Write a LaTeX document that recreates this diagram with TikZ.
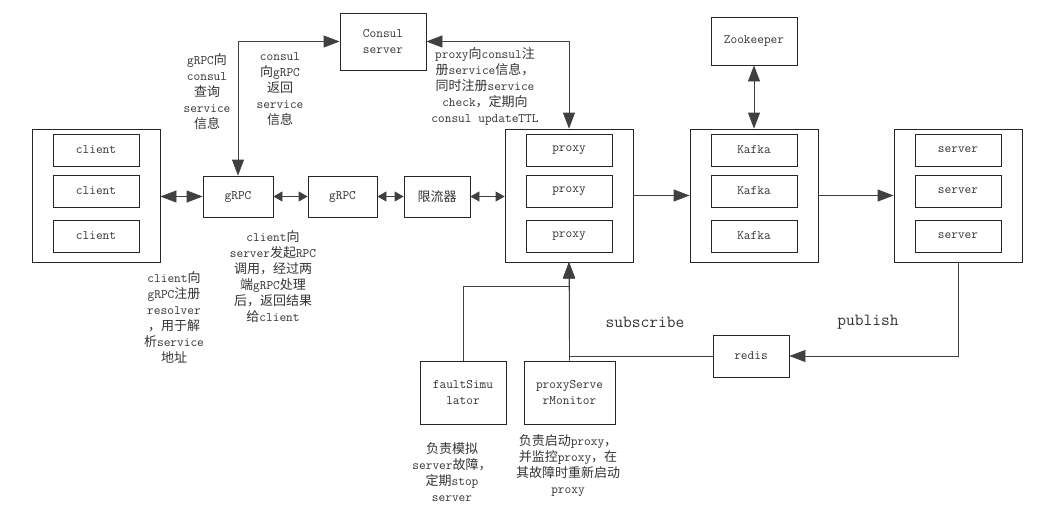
\documentclass[tikz,border=0pt]{standalone}
\usepackage{fontspec}
\usetikzlibrary{arrows.meta}
\newfontfamily\cjk{Noto Sans CJK SC}
\XeTeXinterchartokenstate=1
\newXeTeXintercharclass\CJKcls
\newcount\cjkcnt
\cjkcnt="4E00
\loop\ifnum\cjkcnt<"9FFF \XeTeXcharclass\cjkcnt=\CJKcls \advance\cjkcnt by 1 \repeat
\XeTeXcharclass"FF0C=\CJKcls
\XeTeXinterchartoks 0 \CJKcls = {\cjk}
\XeTeXinterchartoks 4095 \CJKcls = {\cjk}
\XeTeXinterchartoks \CJKcls 0 = {\ttfamily}
\XeTeXinterchartoks \CJKcls 4095 = {\ttfamily}
\tikzset{
  bx/.style={draw=black!85, line width=0.8pt, minimum width=#1, inner sep=0pt, align=center,
    text=black!80, font=\ttfamily\fontsize{13}{16}\selectfont},
  lbl/.style={align=center, inner sep=0pt, text=black!80, font=\ttfamily\fontsize{13}{16}\selectfont},
  big/.style={inner sep=0pt, text=black!80, font=\ttfamily\fontsize{17}{20}\selectfont},
  ln/.style={draw=black!75, line width=0.8pt},
  arr/.style={ln, -{Triangle[length=16pt,width=12pt]}},
  darr/.style={ln, {Triangle[length=16pt,width=12pt]}-{Triangle[length=16pt,width=12pt]}},
  sarr/.style={ln, {Triangle[length=9pt,width=10pt]}-{Triangle[length=9pt,width=10pt]}},
}
\begin{document}
\begin{tikzpicture}[x=1pt,y=-1pt]
\useasboundingbox (0,0) rectangle (1058,520);
% groups
\node[bx=128pt, minimum height=133pt] (cout) at (96,195.5) {};
\node[bx=86pt, minimum height=32pt] (c1) at (96,150) {client};
\node[bx=86pt, minimum height=32pt] (c2) at (96,191) {client};
\node[bx=86pt, minimum height=32pt] (c3) at (96,236) {client};
\node[bx=128pt, minimum height=133pt] (pout) at (569,195.5) {};
\node[bx=86pt, minimum height=32pt] (p1) at (569,150) {proxy};
\node[bx=86pt, minimum height=32pt] (p2) at (569,191) {proxy};
\node[bx=86pt, minimum height=32pt] (p3) at (569,236) {proxy};
\node[bx=128pt, minimum height=133pt] (kout) at (754,195.5) {};
\node[bx=86pt, minimum height=32pt] (k1) at (754,150) {Kafka};
\node[bx=86pt, minimum height=32pt] (k2) at (754,191) {Kafka};
\node[bx=86pt, minimum height=32pt] (k3) at (754,236) {Kafka};
\node[bx=128pt, minimum height=133pt] (sout) at (958,195.5) {};
\node[bx=86pt, minimum height=32pt] (s1) at (958,150) {server};
\node[bx=86pt, minimum height=32pt] (s2) at (958,191) {server};
\node[bx=86pt, minimum height=32pt] (s3) at (958,236) {server};
% single boxes
\node[bx=70pt, minimum height=41pt] (g1) at (238,196.5) {gRPC};
\node[bx=69pt, minimum height=41pt] (g2) at (342.5,196.5) {gRPC};
\node[bx=66pt, minimum height=41pt] (lim) at (437,196.5) {限流器};
\node[bx=86pt, minimum height=57pt] (consul) at (383,41.5) {Consul\\server};
\node[bx=86pt, minimum height=48pt] (zk) at (754,41) {Zookeeper};
\node[bx=76pt, minimum height=42pt] (redis) at (751,356) {redis};
\node[bx=86pt, minimum height=63pt] (fs) at (463,392.5) {faultSimu\\lator};
\node[bx=91pt, minimum height=63pt] (mon) at (569.5,392.5) {proxyServe\\rMonitor};
% labels
\node[lbl] (t1) at (207,92) {gRPC向\\consul\\查询\\service\\信息};
\node[lbl] (t2) at (280,89) {consul\\向gRPC\\返回\\service\\信息};
\node[lbl] (t3) at (485,86) {proxy向consul注\\册service信息，\\同时注册service\\check，定期向\\consul updateTTL};
\node[lbl] (t4) at (273,277) {client向\\server发起RPC\\调用，经过两\\端gRPC处理\\后，返回结果\\给client};
\node[lbl] (t5) at (174,317.5) {client向\\gRPC注册\\resolver\\，用于解\\析service\\地址};
\node[lbl] (t6) at (452,472) {负责模拟\\server故障，\\定期stop\\server};
\node[lbl] (t7) at (568,466) {负责启动proxy，\\并监控proxy，在\\其故障时重新启动\\proxy};
\node[big] (sub) at (645,322) {subscribe};
\node[big] (pub) at (868,322) {publish};
% connectors
\draw[darr] (g1.west) -- (g1.west -| cout.east);
\draw[sarr] (g1.east) -- (g2.west);
\draw[sarr] (g2.east) -- (lim.west);
\draw[sarr] (lim.east) -- (lim.east -| pout.west);
\draw[arr] (pout.east) -- (kout.west);
\draw[arr] (kout.east) -- (sout.west);
\draw[darr] (zk.south) -- (kout.north);
\draw[darr] (g1.north) |- (consul.west);
\draw[darr] (consul.east) -| (pout.north);
\coordinate (fsturn) at (463,286);
\draw[arr] (fs.north) -- (fsturn) -| (pout.south);
\draw[arr] (mon.north) -- (pout.south);
\draw[arr] (redis.west) -| (pout.south);
\draw[arr] (sout.south) |- (redis.east);
\end{tikzpicture}
\end{document}
